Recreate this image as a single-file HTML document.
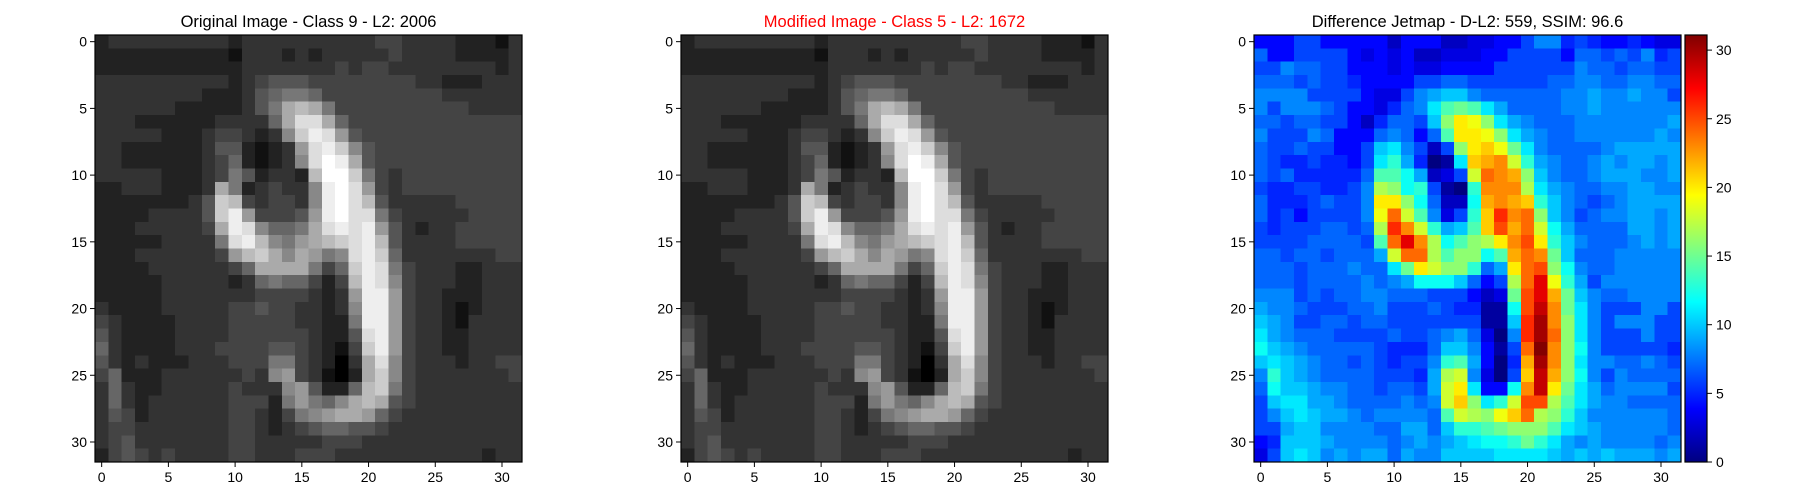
<!DOCTYPE html>
<html><head><meta charset="utf-8">
<style>
html,body{margin:0;padding:0;background:#fff;}
svg{display:block;font-family:"Liberation Sans","DejaVu Sans",sans-serif;}
</style></head>
<body>
<svg id="fig" width="1800" height="500" viewBox="0 0 1800 500" xmlns="http://www.w3.org/2000/svg">
<defs>
<linearGradient id="jetgrad" x1="0" y1="1" x2="0" y2="0">
<stop offset="0" stop-color="#000080"/><stop offset="0.125" stop-color="#0000ff"/>
<stop offset="0.375" stop-color="#00ffff"/><stop offset="0.5" stop-color="#80ff80"/>
<stop offset="0.625" stop-color="#ffff00"/><stop offset="0.875" stop-color="#ff0000"/>
<stop offset="1" stop-color="#800000"/>
</linearGradient>
</defs>
</svg>
<script>
// ---- data ----
const tickValues = [0, 5, 10, 15, 20, 25, 30];
const colorbarTicks = [0, 5, 10, 15, 20, 25, 30];
const colorbarMax = 31.1;
const titles = ["Original Image - Class 9 - L2: 2006", "Modified Image - Class 5 - L2: 1672", "Difference Jetmap - D-L2: 559, SSIM: 96.6"];
// grayscale rows, hex digit 0-f per pixel (groups of 8)
const originalImage = [
"23333333 33233333 33333443 33322213",
"22222222 22133323 23333343 33322223",
"22222222 22233333 33434433 33333323",
"33333333 33234555 44444444 33222333",
"33333333 22235677 64444444 44333333",
"33333322 222357ab a7444444 44443333",
"33322222 233336ad da644444 44444444",
"33333222 344323 8c ed954444 44444444",
"33222222 3552123 9 dec85444 44444444",
"33222222 34621238 dfea5444 44444444",
"33333222 34752332 bffc7434 44444444",
"22333222 3a723433 8efd9434 44444444",
"22222223 5cb43443 8efdb533 33344444",
"22223333 5ce94445 9efdd743 33334444",
"22233333 4aed8667 adede953 23344444",
"22222333 37deb879 abcdeb53 33344444",
"22233333 349bca8a 978dec63 33333344",
"22223333 3346aaaa 746ced74 33322333",
"22222333 33236766 424bed84 33322333",
"22222333 33334444 3239ee94 33222333",
"32222333 33445443 3238ee94 33212333",
"43222233 33444443 3227ee94 33213333",
"53222233 33444444 3225de94 33223333",
"63222233 34444554 321 4ce94 33223333",
"53232223 33444774 3203ad84 33323344",
"46222333 33343894 3102ac84 33333334",
"36322333 33433389 5226bc74 33333333",
"36323333 33444279 768aba54 33333333",
"35423333 33443247 89aa9643 33333333",
"34433333 33443234 56655433 33333333",
"34533333 33443333 34443333 33333333",
"24543433 33443334 44333333 33333233"
];
const modifiedImage = [
"23333333 33233333 33333443 33322213",
"22222222 22133323 23333343 33322223",
"22222222 22233333 33434433 33333323",
"33333333 33234555 44444444 33222333",
"33333333 22235677 64444444 44333333",
"33333322 222357ab a7444444 44443333",
"33322222 233336ad da644444 44444444",
"33333222 3443238c ed954444 44444444",
"33222222 35521239 dec85444 44444444",
"33222222 34621238 dfea5444 44444444",
"33333222 34752332 bffc7434 44444444",
"22333222 3a723433 8efd9434 44444444",
"22222223 5cb43443 8efdb533 33344444",
"22223333 5ce94445 9efdd743 33334444",
"22233333 4aed8667 adede953 23344444",
"22222333 37deb879 abcdeb53 33344444",
"22233333 349bca8a 978dec63 33333344",
"22223333 3346aaaa 746ced74 33322333",
"22222333 33236766 424bed84 33322333",
"22222333 33334444 3239ee94 33222333",
"32222333 33445443 3238ee94 33212333",
"43222233 33444443 3227ee94 33213333",
"53222233 33444444 3225de94 33223333",
"63222233 34444554 3214ce94 33223333",
"53232223 33444774 3203ad84 33323344",
"46222333 33343894 3102ac84 33333334",
"36322333 33433389 5226bc74 33333333",
"36323333 33444279 768aba54 33333333",
"35423333 33443247 89aa9643 33333333",
"34433333 33443234 56655433 33333333",
"34533333 33443333 34443333 33333333",
"24543433 33443334 44333333 33333233"
];
// difference rows, base-32 digit (0-v = 0..31) per pixel
const differenceMap = [
"44466444442444223344688565445433",
"74466664343422333446666477676856",
"66877664443433444466666687767766",
"77767665444466776666667788778877",
"88886666433689aa8777777889889886",
"8688876443578befeb97777889888888",
"7767766425776agkjgb9877788888889",
"86668744478747ekkjgb987788888898",
"766766446ab8626gkljfb87777899999",
"765565546bd9501blmnid98778989989",
"767555557eec9236ionmga8778999889",
"655665568hgcd610dnnnhb9877889988",
"755567668kkgc722cmnmlda876789999",
"756466668joie836dlqnoga867889989",
"656667767hqnid9aelpmoic977779989",
"666677776eosnhceghknpkda87778989",
"7767767779iooheggcemonfa77788888",
"7776777877bfkiggd79kopgc87788888",
"777677778789ccca746hosjd96888888",
"8886767788777666423fpsmfa8778888",
"9887666778666765511cptnfb8666886",
"a986677677666666611aqungb8688866",
"b9877766667667897308quogb8666866",
"ca987777765557aa8416ovngc8666665",
"aba98776765668de9405mungb8877876",
"8da98777766659hi8306ltmgc8687777",
"7caa9887767769ikb44cntkfb9788886",
"6abb9987777878ilgbdippheb9887777",
"68aba998788887eihgjlohgda8888887",
"669aa888877997addefgggeba9888887",
"45aaa9888878989abccdfdb989888878",
"36aba898997988aaaabbbba9a9a99989"
];
// ---- layout ----
const NS = "http://www.w3.org/2000/svg";
const svg = document.getElementById("fig");
const N = 32, PW = 427, TOP = 35;
const panelLefts = [95, 681, 1254];
function mk(tag, attrs, parent){const e=document.createElementNS(NS,tag);for(const k in attrs)e.setAttribute(k,attrs[k]);(parent||svg).appendChild(e);return e;}
function clamp(v){return Math.max(0,Math.min(1,v));}
function jet(t){const r=clamp(1.5-Math.abs(4*t-3)),g=clamp(1.5-Math.abs(4*t-2)),b=clamp(1.5-Math.abs(4*t-1));return `rgb(${Math.round(r*255)},${Math.round(g*255)},${Math.round(b*255)})`;}
function parseGray(rows){return rows.map(r=>r.replace(/\s/g,"").split("").map(c=>parseInt(c,16)));}
function parseJet(rows){return rows.map(r=>r.replace(/\s/g,"").split("").map(c=>parseInt(c,32)));}
function gray(v){if(isNaN(v))v=3;const g=Math.round(v*17);return `rgb(${g},${g},${g})`;}

function drawPanel(i, grid, colorFn, title, titleColor){
  const L = panelLefts[i], cs = PW / N;
  const xs = c => L + c * cs, ys = r => TOP + r * cs;
  const g = mk("g", {});
  
  
  const cells = mk("g", {"shape-rendering":"crispEdges"}, g);
  
  
  for (let r = 0; r < N; r++) for (let c = 0; c < N; c++) {
    const rect = mk("rect", {x: xs(c).toFixed(2), y: ys(r).toFixed(2), width: (cs + 0.6).toFixed(2), height: (cs + 0.6).toFixed(2), fill: colorFn(grid[r][c])}, cells);
    
    
  }
  const frame = mk("rect", {x: L, y: TOP, width: PW, height: PW, fill: "none", stroke: "#000", "stroke-width": 1.2}, g);
  
  
  tickValues.forEach(v => {
    const cx = xs(v + 0.5), cy = ys(v + 0.5);
    const tx = mk("line", {x1: cx, x2: cx, y1: TOP + PW, y2: TOP + PW + 5, stroke: "#000", "stroke-width": 1}, g);
    
    
    const lx = mk("text", {x: cx, y: TOP + PW + 20, "font-size": 14, "text-anchor": "middle", fill: "#000"}, g);
    lx.textContent = v;
    
    
    const ty = mk("line", {x1: L - 5, x2: L, y1: cy, y2: cy, stroke: "#000", "stroke-width": 1}, g);
    
    
    const ly = mk("text", {x: L - 8, y: cy + 5, "font-size": 14, "text-anchor": "end", fill: "#000"}, g);
    ly.textContent = v;
    
    
  });
  const t = mk("text", {x: L + PW / 2, y: 27, "font-size": 16.5, "text-anchor": "middle", fill: titleColor}, g);
  t.textContent = title;
  
  
}
drawPanel(0, parseGray(originalImage), gray, titles[0], "#000");
drawPanel(1, parseGray(modifiedImage), gray, titles[1], "#ff0000");
drawPanel(2, parseJet(differenceMap), v => jet(v / colorbarMax), titles[2], "#000");

// colorbar
const CBX = 1685, CBW = 22, CBT = 35, CBB = 462;
const cb = mk("g", {});


const cbr = mk("rect", {x: CBX, y: CBT, width: CBW, height: CBB - CBT, fill: "url(#jetgrad)", stroke: "#000", "stroke-width": 1.2}, cb);


const cy = v => CBB - v / colorbarMax * (CBB - CBT);
colorbarTicks.forEach(v => {
  const y = cy(v);
  const l = mk("line", {x1: CBX + CBW, x2: CBX + CBW + 5, y1: y, y2: y, stroke: "#000", "stroke-width": 1}, cb);
  
  
  const t = mk("text", {x: CBX + CBW + 9, y: y + 5, "font-size": 14, fill: "#000"}, cb);
  t.textContent = v;
  
  
});
</script>
</body></html>
